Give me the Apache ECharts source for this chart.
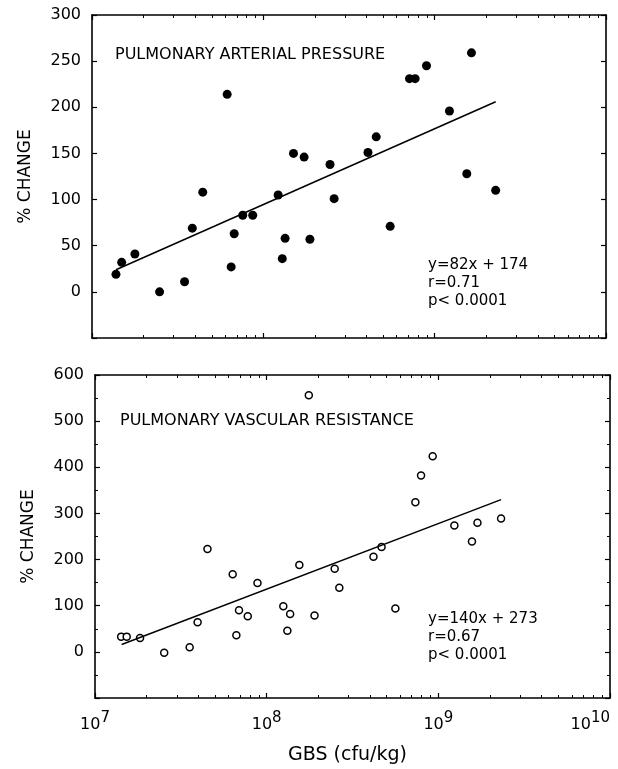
<!DOCTYPE html>
<html>
<head>
<meta charset="utf-8">
<script src="https://cdn.jsdelivr.net/npm/echarts@6/dist/echarts.min.js"></script>
<style>
  html, body { margin: 0; padding: 0; background: #fff; }
  #chart { width: 618px; height: 769px; }
</style>
</head>
<body>
<div id="chart"></div>
<script>
// top panel: pulmonary arterial pressure
const gbsPap = [1.38e7, 1.49e7, 1.78e7, 2.48e7, 3.47e7, 3.85e7, 4.43e7, 6.15e7, 6.49e7, 6.76e7,
  7.58e7, 8.67e7, 1.22e8, 1.29e8, 1.34e8, 1.50e8, 1.73e8, 1.87e8, 2.45e8, 2.59e8,
  4.08e8, 4.56e8, 5.50e8, 7.13e8, 7.69e8, 8.96e8, 1.22e9, 1.54e9, 1.64e9, 2.27e9]
const papChange = [19, 32, 41, 0, 11, 69, 108, 214, 27, 63,
  83, 83, 105, 36, 58, 150, 146, 57, 138, 101,
  151, 168, 71, 231, 231, 245, 196, 128, 259, 110]
const papFitX = [1.38e7, 2.27e9]
const papFitY = [24, 206]

// bottom panel: pulmonary vascular resistance
const gbsPvr = [1.42e7, 1.53e7, 1.83e7, 2.53e7, 3.56e7, 3.96e7, 4.52e7, 6.34e7, 6.66e7, 6.90e7,
  7.76e7, 8.84e7, 1.25e8, 1.32e8, 1.37e8, 1.55e8, 1.76e8, 1.90e8, 2.49e8, 2.65e8,
  4.19e8, 4.67e8, 5.62e8, 7.35e8, 7.93e8, 9.27e8, 1.24e9, 1.57e9, 1.69e9, 2.32e9]
const pvrChange = [33, 33, 30, -2, 10, 64, 223, 168, 36, 90,
  77, 149, 99, 46, 82, 188, 556, 79, 180, 139,
  206, 227, 94, 324, 382, 424, 274, 239, 280, 289]
const pvrFitX = [1.43e7, 2.32e9]
const pvrFitY = [16, 330]

const decades = [1e7, 1e8, 1e9, 1e10]
const minorSteps = [2, 3, 4, 5, 6, 7, 8, 9]

const FONT = '"DejaVu Sans", sans-serif'
const black = '#000'

const minorTicks = []
decades.slice(0, 3).forEach((d) => minorSteps.forEach((m) => minorTicks.push(d * m)))

function xAxes(grid, withLabels) {
  const base = {
    type: 'log',
    logBase: 10,
    min: 1e7,
    max: 1e10,
    gridIndex: grid,
    splitLine: { show: false },
  }
  const out = []
  for (const pos of ['bottom', 'top']) {
    out.push({
      ...base,
      position: pos,
      axisLine: { show: true, onZero: false, lineStyle: { color: black, width: 1.6 } },
      axisTick: { show: true, inside: true, length: 5, customValues: decades, lineStyle: { color: black, width: 1.2 } },
      axisLabel: {
        show: withLabels && pos === 'bottom',
        customValues: decades,
        margin: 13,
        alignMaxLabel: 'right',
        formatter: (v) => '{b|10}{s|' + Math.round(Math.log10(v)) + '}',
        rich: {
          b: { fontSize: 16, fontFamily: FONT, color: black, lineHeight: 22, verticalAlign: 'bottom' },
          s: { fontSize: 15, fontFamily: FONT, color: black, lineHeight: 22, verticalAlign: 'top' },
        },
      },
    })
    out.push({
      ...base,
      position: pos,
      axisLine: { show: false, onZero: false },
      axisTick: { show: true, inside: true, length: 3, customValues: minorTicks, lineStyle: { color: black, width: 1 } },
      axisLabel: { show: false },
    })
  }
  return out
}

function yAxes(grid, min, max, interval, minorSplit) {
  const common = {
    type: 'value',
    gridIndex: grid,
    min: min,
    max: max,
    interval: interval,
    splitLine: { show: false },
    axisLine: { show: true, onZero: false, lineStyle: { color: black, width: 1.6 } },
    axisTick: { show: true, inside: true, length: 5, lineStyle: { color: black, width: 1.2 } },
    minorTick: { show: minorSplit > 0, splitNumber: minorSplit || 5, length: 3, lineStyle: { color: black, width: 1 } },
  }
  return [
    {
      ...common,
      position: 'left',
      name: '% CHANGE',
      nameLocation: 'middle',
      nameGap: 58,
      nameTextStyle: { fontSize: 17, fontFamily: FONT, color: black },
      axisLabel: {
        margin: 11,
        fontSize: 16,
        fontFamily: FONT,
        color: black,
        formatter: (v) => (v < 0 ? '' : String(v)),
      },
    },
    { ...common, position: 'right', axisLabel: { show: false } },
  ]
}

const chart = echarts.init(document.getElementById('chart'), null, { renderer: 'canvas' })

const pairs = (xs, ys) => xs.map((x, i) => [x, ys[i]])

chart.setOption({
  backgroundColor: '#fff',
  animation: false,
  grid: [
    { left: 92, top: 15, width: 514, height: 323 },
    { left: 95, top: 375, width: 515, height: 323 },
  ],
  xAxis: [...xAxes(0, false), ...xAxes(1, true)],
  yAxis: [...yAxes(0, -50, 300, 50, 0), ...yAxes(1, -100, 600, 100, 2)],
  graphic: [
    { type: 'text', left: 115, top: 47, style: { text: 'PULMONARY ARTERIAL PRESSURE', font: '16px ' + FONT, fill: black } },
    { type: 'text', left: 428, top: 256, style: { text: 'y=82x + 174\nr=0.71\np< 0.0001', font: '15px ' + FONT, fill: black, lineHeight: 18 } },
    { type: 'text', left: 120, top: 413, style: { text: 'PULMONARY VASCULAR RESISTANCE', font: '16px ' + FONT, fill: black } },
    { type: 'text', left: 428, top: 610, style: { text: 'y=140x + 273\nr=0.67\np< 0.0001', font: '15px ' + FONT, fill: black, lineHeight: 18 } },
    { type: 'text', left: 288, top: 746, style: { text: 'GBS (cfu/kg)', font: '19px ' + FONT, fill: black } },
  ],
  series: [
    {
      type: 'scatter',
      xAxisIndex: 0,
      yAxisIndex: 0,
      symbol: 'circle',
      symbolSize: 9,
      itemStyle: { color: black, opacity: 1 },
      data: pairs(gbsPap, papChange),
    },
    {
      type: 'line',
      xAxisIndex: 0,
      yAxisIndex: 0,
      showSymbol: false,
      symbol: 'none',
      lineStyle: { color: black, width: 1.5 },
      data: pairs(papFitX, papFitY),
    },
    {
      type: 'scatter',
      xAxisIndex: 4,
      yAxisIndex: 2,
      symbol: 'circle',
      symbolSize: 7,
      itemStyle: { color: '#fff', borderColor: black, borderWidth: 1.5, opacity: 1 },
      data: pairs(gbsPvr, pvrChange),
    },
    {
      type: 'line',
      xAxisIndex: 4,
      yAxisIndex: 2,
      showSymbol: false,
      symbol: 'none',
      lineStyle: { color: black, width: 1.5 },
      data: pairs(pvrFitX, pvrFitY),
    },
  ],
})
</script>
</body>
</html>
